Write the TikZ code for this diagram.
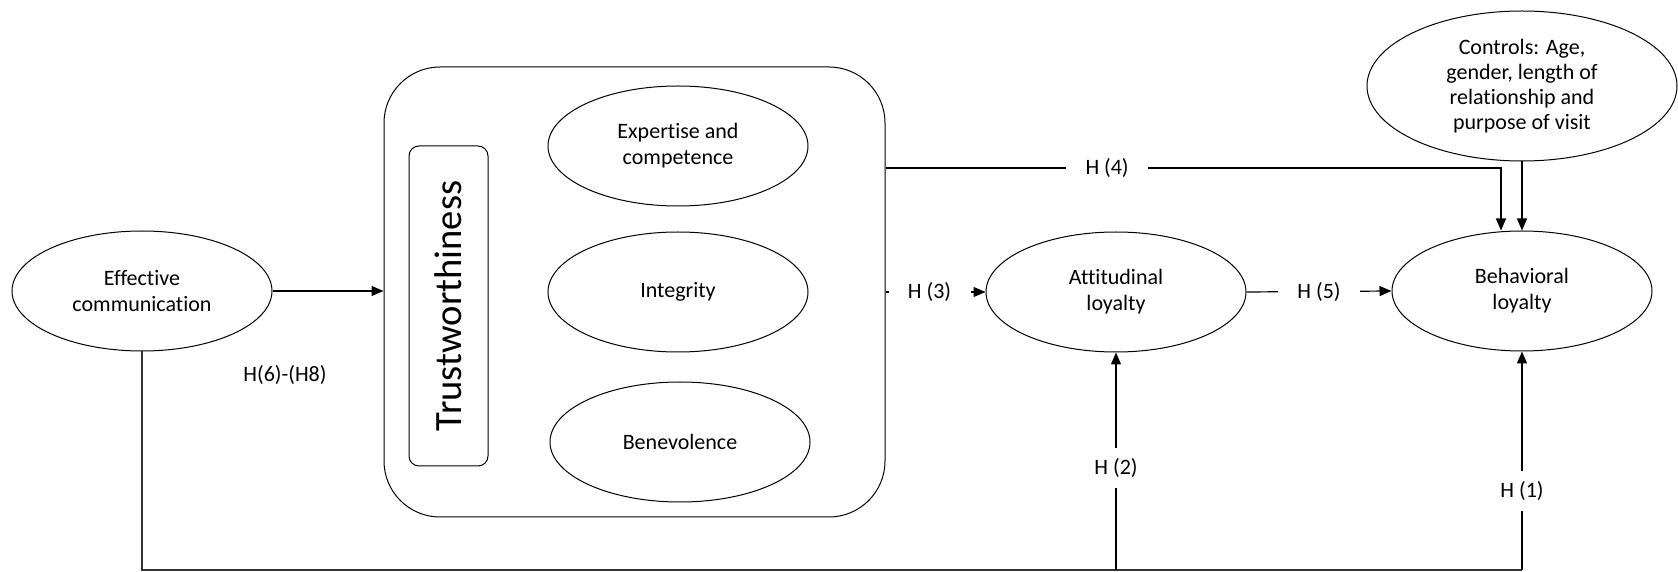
\documentclass[tikz,border=0pt]{standalone}
\usepackage{fontspec}
\setmainfont{Carlito}[Ligatures=NoCommon]
\usetikzlibrary{positioning,shapes.geometric,arrows.meta}

\tikzset{
  construct/.style={draw, ellipse, line width=0.5pt, inner sep=0pt, align=center,
    minimum width=130pt, minimum height=60pt},
  hyp/.style={fill=white, inner sep=0pt, minimum width=41pt, minimum height=20pt},
  link/.style={-{Triangle[length=6pt,width=5pt]}, line width=0.6pt},
  base/.style={line width=1pt, draw=black!80},
}

\begin{document}
\begin{tikzpicture}[x=0.5pt,y=-0.5pt,font=\fontsize{11}{13}\selectfont]
  \useasboundingbox (0,0) rectangle (1678,572);
  % trustworthiness block
  \node[draw, line width=0.5pt, rounded corners=28pt, minimum width=250.5pt, minimum height=225pt] (trust) at (634.5,292) {};
  \node[draw, line width=0.5pt, rounded corners=5pt, rotate=90, minimum width=160pt, minimum height=39.5pt,
    font=\fontsize{19.3}{23}\selectfont] (trustlbl) at (448.5,306) {Trustworthiness};
  \node[construct] (expert) at (678,146) {Expertise and\\competence};
  \node[construct] (integ) at (678,292) {Integrity};
  \node[construct] (benev) at (680,442) {Benevolence};
  % other constructs
  \node[construct] (effcom) at (142,291) {Effective\\communication};
  \node[construct] (attit) at (1116,292) {Attitudinal\\loyalty};
  \node[construct] (behav) at (1522,291) {Behavioral\\loyalty};
  \node[construct, minimum width=155pt, minimum height=75pt, font=\fontsize{11}{12.5}\selectfont] (ctrl) at (1522,86)
    {Controls: Age,\\gender, length of\\relationship and\\purpose of visit};
  \node (hmed) at (285,375) {H(6)-(H8)};
  \coordinate (h4turn) at (1501,168);
  \coordinate (floor) at (0,570);
  % paths
  \draw[link] (effcom.east) -- (effcom.east -| trust.west);
  \draw[link] (trust.east |- attit.west) -- node[hyp, pos=0.44] {H (3)} (attit.west);
  \draw[link] (attit.east) -- node[hyp] {H (5)} (behav.west);
  \draw[link] (trust.east |- h4turn) -- node[hyp, pos=0.36] {H (4)} (h4turn) -- (h4turn |- behav.north);
  \draw[link] (ctrl.south) -- (behav.north);
  \draw[base] (effcom.south) -- (effcom.south |- floor) -- (behav.south |- floor);
  \draw[link] (attit.south |- floor) -- node[hyp, pos=0.47] {H (2)} (attit.south);
  \draw[link] (behav.south |- floor) -- node[hyp, pos=0.36] {H (1)} (behav.south);
\end{tikzpicture}
\end{document}
